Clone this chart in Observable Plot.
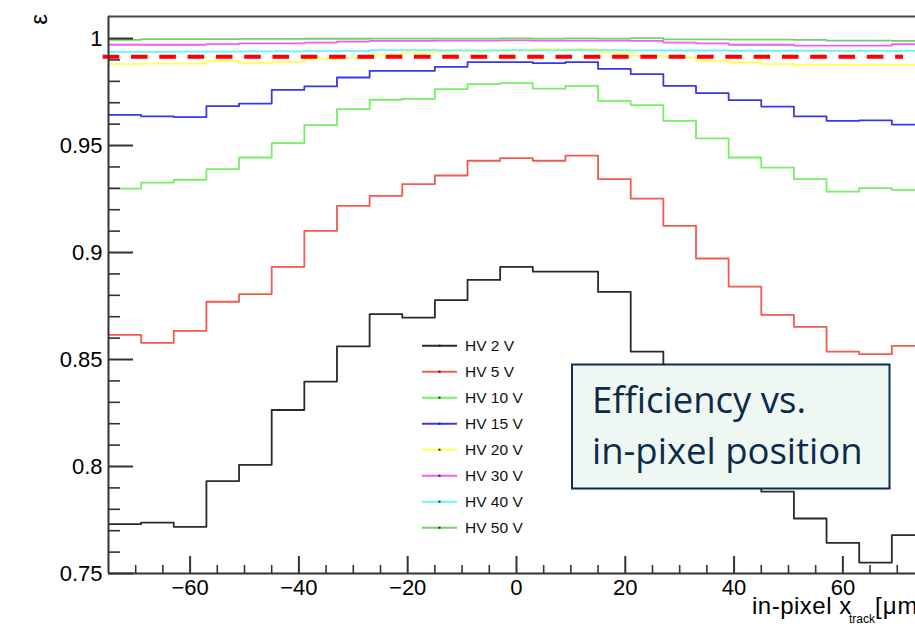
<!DOCTYPE html>
<html><head><meta charset="utf-8">
<script src="https://cdn.jsdelivr.net/npm/d3@7"></script>
<script src="https://cdn.jsdelivr.net/npm/@observablehq/plot@0.6"></script>
<style>
html,body{margin:0;padding:0;background:#fff;overflow:hidden}
#chart{position:relative;width:915px;height:626px}
</style></head><body><div id="chart"></div>
<script>
// ---- data ----
const binEdges = [-75,-69,-63,-57,-51,-45,-39,-33,-27,-21,-15,-9,-3,3,9,15,21,27,33,39,45,51,57,63,69,75];
const seriesNames = ["HV 2 V","HV 5 V","HV 10 V","HV 15 V","HV 20 V","HV 30 V","HV 40 V","HV 50 V"];
const seriesColors = ["#2a2a2a","#f25a50","#77ee66","#3838e8","#ffff55","#f060f0","#66f8f8","#7acc6e"];
const hv2  = [0.7731,0.7738,0.7718,0.7932,0.8008,0.8264,0.8397,0.8561,0.8712,0.8696,0.8778,0.8872,0.8933,0.8911,0.8911,0.8816,0.8537,0.8350,0.8180,0.8010,0.7883,0.7757,0.7643,0.7551,0.7679];
const hv5  = [0.8615,0.8578,0.8634,0.8770,0.8806,0.8933,0.9101,0.9218,0.9265,0.9320,0.9360,0.9429,0.9441,0.9429,0.9453,0.9343,0.9252,0.9125,0.8972,0.8841,0.8709,0.8653,0.8537,0.8525,0.8564];
const hv10 = [0.9299,0.9327,0.9340,0.9390,0.9444,0.9511,0.9595,0.9670,0.9714,0.9718,0.9764,0.9787,0.9792,0.9766,0.9779,0.9709,0.9689,0.9615,0.9533,0.9444,0.9397,0.9343,0.9285,0.9301,0.9293];
const hv15 = [0.9643,0.9636,0.9633,0.9684,0.9696,0.9760,0.9776,0.9818,0.9849,0.9849,0.9868,0.9890,0.9890,0.9885,0.9890,0.9858,0.9834,0.9779,0.9745,0.9712,0.9682,0.9636,0.9615,0.9618,0.9598];
const hv20 = [0.9880,0.9883,0.9883,0.9896,0.9885,0.9891,0.9904,0.9910,0.9925,0.9935,0.9940,0.9940,0.9942,0.9950,0.9950,0.9935,0.9920,0.9912,0.9896,0.9888,0.9880,0.9876,0.9876,0.9876,0.9876];
const hv30 = [0.9971,0.9971,0.9971,0.9974,0.9977,0.9977,0.9981,0.9986,0.9989,0.9989,0.9990,0.9990,0.9991,0.9990,0.9990,0.9990,0.9989,0.9981,0.9977,0.9971,0.9971,0.9967,0.9967,0.9967,0.9974];
const hv40 = [0.9938,0.9938,0.9939,0.9939,0.9940,0.9940,0.9941,0.9941,0.9946,0.9946,0.9945,0.9945,0.9946,0.9945,0.9946,0.9946,0.9945,0.9944,0.9944,0.9943,0.9943,0.9943,0.9942,0.9942,0.9942];
const hv50 = [0.9994,0.9997,0.9997,0.9997,0.9998,0.9998,0.9999,0.9999,1.0000,1.0000,1.0000,1.0000,1.0001,1.0000,1.0001,1.0000,1.0002,0.9996,0.9996,0.9995,0.9995,0.9994,0.9990,0.9990,0.9989];
const threshold = [0.9915];
const xDomain = [-75, 73.35];
const yDomain = [0.75, 1.0103];
const xMajor = [-60,-40,-20,0,20,40,60];
const xMinor = [-70,-65,-55,-50,-45,-35,-30,-25,-15,-10,-5,5,10,15,25,30,35,45,50,55,65,70];
const yMajor = [0.75,0.8,0.85,0.9,0.95,1];
const yMinor = [0.76,0.77,0.78,0.79,0.81,0.82,0.83,0.84,0.86,0.87,0.88,0.89,0.91,0.92,0.93,0.94,0.96,0.97,0.98,0.99];
const yTitle = "ε";
const xTitle = "in-pixel x";
const xTitleSub = "track";
const xTitleUnit = "[μm]";
const boxLines = ["Efficiency vs.", "in-pixel position"];

// ---- build rows ----
const allValues = [hv2,hv5,hv10,hv15,hv20,hv30,hv40,hv50];
const rows = [];
allValues.forEach((vals, k) => {
  vals.forEach((v, i) => rows.push({s: seriesNames[k], x: binEdges[i], y: v}));
  rows.push({s: seriesNames[k], x: binEdges[binEdges.length - 1], y: vals[vals.length - 1]});
});

const W = 915, H = 626, mL = 108, mR = 0, mT = 16, mB = 53;
const fw = W - mL - mR, fh = H - mT - mB;
const axisColor = "#333";
const fontFam = "'Liberation Sans', Arial, sans-serif";

const plot = Plot.plot({
  width: W, height: H,
  marginLeft: mL, marginRight: mR, marginTop: mT, marginBottom: mB,
  style: {fontFamily: fontFam, background: "#fff", color: "#000", overflow: "hidden"},
  x: {domain: xDomain},
  y: {domain: yDomain},
  color: {domain: seriesNames, range: seriesColors},
  marks: [
    Plot.line(rows, {x: "x", y: "y", z: "s", stroke: "s", curve: "step-after", strokeWidth: 1.8, clip: true}),
    Plot.ruleY(threshold, {stroke: "#ff0000", strokeWidth: 4, strokeDasharray: "16.6,11.7", insetLeft: -5.3, insetRight: 12}),
    // frame
    Plot.ruleX([xDomain[0]], {stroke: axisColor, strokeWidth: 2}),
    Plot.ruleY([yDomain[0]], {stroke: axisColor, strokeWidth: 2}),
    Plot.ruleY([yDomain[1]], {stroke: "#444", strokeWidth: 2}),
    // ticks (inward)
    Plot.ruleX(xMajor, {stroke: axisColor, strokeWidth: 2, insetTop: fh - 17}),
    Plot.ruleX(xMinor, {stroke: axisColor, strokeWidth: 1.6, insetTop: fh - 8}),
    Plot.ruleY(yMajor, {stroke: axisColor, strokeWidth: 2, insetRight: fw - 25}),
    Plot.ruleY(yMinor, {stroke: axisColor, strokeWidth: 1.6, insetRight: fw - 12}),
    // tick labels
    Plot.axisX(xMajor, {tickSize: 0, tickPadding: 6, fontSize: 22, label: null}),
    Plot.axisY(yMajor, {tickSize: 0, tickPadding: 6, fontSize: 22, label: null, tickFormat: d => `${d}`}),
    Plot.text([yTitle], {frameAnchor: "top-left", textAnchor: "middle", lineAnchor: "middle", dx: -69, dy: 3, rotate: -90, fontSize: 24, fill: "#000"})
  ]
});

document.getElementById("chart").appendChild(plot);

const svg = d3.select(plot);

// x-axis title
const xt = svg.append("text")
  .attr("x", 752).attr("y", 614)
  .attr("text-anchor", "start")
  .attr("font-family", fontFam)
  .attr("font-size", 24).attr("fill", "#000");
xt.append("tspan").attr("letter-spacing", 0.5).text(xTitle);
xt.append("tspan").attr("x", 849).attr("dy", 9).attr("font-size", 12).text(xTitleSub);
xt.append("tspan").attr("x", 875).attr("dy", -9).attr("letter-spacing", 1).text(xTitleUnit);

// legend
const lg = svg.append("g").attr("font-family", fontFam).attr("font-size", 15.5).attr("text-anchor", "start");
seriesNames.forEach((name, i) => {
  const yy = 345.7 + i * 26;
  lg.append("line").attr("x1", 422).attr("x2", 457).attr("y1", yy).attr("y2", yy)
    .attr("stroke", seriesColors[i]).attr("stroke-width", 2);
  lg.append("rect").attr("x", 438.5).attr("y", yy - 1).attr("width", 2).attr("height", 2).attr("fill", "#222");
  lg.append("text").attr("x", 465).attr("y", yy).attr("dy", "0.36em").attr("fill", "#111").text(name);
});

// annotation box
const bx = svg.append("g").attr("text-anchor", "start");
bx.append("rect").attr("x", 572).attr("y", 364.5).attr("width", 317.5).attr("height", 124)
  .attr("fill", "#eef7f2").attr("stroke", "#0f2d4d").attr("stroke-width", 2);
boxLines.forEach((t, i) => {
  bx.append("text").attr("x", 592).attr("y", 413 + i * 51)
    .attr("font-family", "'Open Sans', 'Noto Sans', sans-serif").attr("font-size", 36.5)
    .attr("fill", "#0c2b4b").text(t);
});
</script>
</body></html>
